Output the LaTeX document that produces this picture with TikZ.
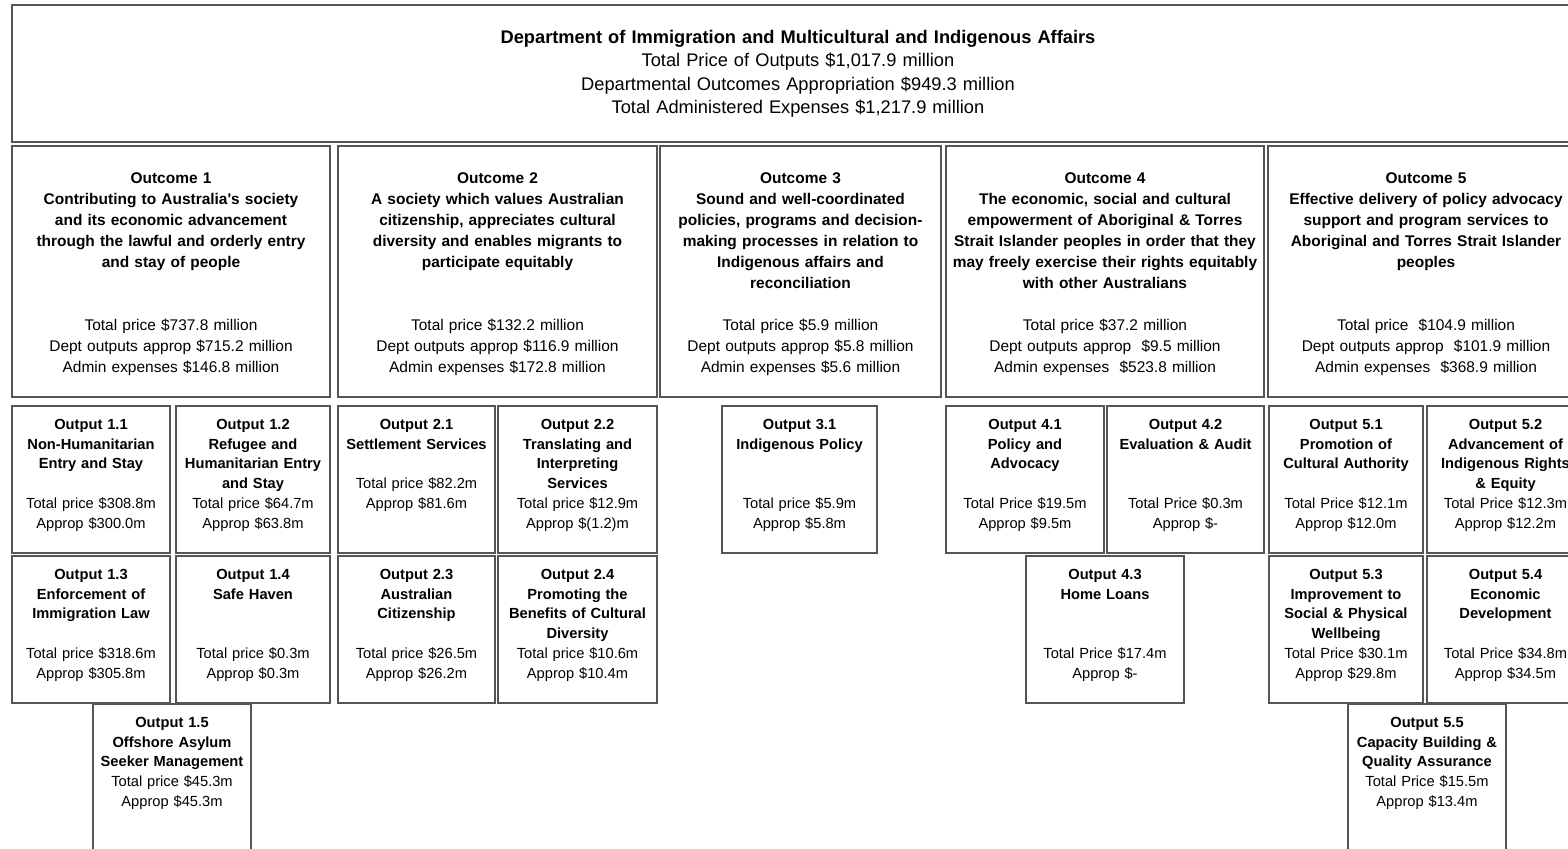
\documentclass[tikz,border=0pt]{standalone}
\usepackage{fontspec}
\setmainfont{Liberation Sans}
\usetikzlibrary{positioning,fit}
\definecolor{boxgray}{HTML}{555555}

\tikzset{
  box/.style={draw=boxgray, line width=1.1pt, inner sep=0pt},
  headtxt/.style={align=center, inner sep=0pt, font={\fontsize{13.7}{17.6}\selectfont}},
  outcometxt/.style={align=center, inner sep=0pt, font={\fontsize{11.6}{15.75}\selectfont}},
  outputtxt/.style={align=center, inner sep=0pt, font={\fontsize{11}{14.85}\selectfont}},
}

\begin{document}
\begin{tikzpicture}[x=0.75pt, y=-0.75pt]
\useasboundingbox (0,0) rectangle (1568,849);
\clip (0,0) rectangle (1568,849);
\fill[white] (0,0) rectangle (1568,849);

% department
\node[box, fit={(12,5) (1584,142)}] (dept) {};
\node[headtxt, text width=1100pt, below=19.3pt of dept.north] (dept-t) {%
  \textbf{Department of Immigration and Multicultural and Indigenous Affairs}\\
  Total Price of Outputs \$1,017.9 million\\
  Departmental Outcomes Appropriation \$949.3 million\\
  Total Administered Expenses \$1,217.9 million};

% outcomes
\foreach \nm/\xa/\xb/\txt in {%
    oc1/12/330/{{\bfseries Outcome 1\\ Contributing to Australia\textquotesingle s society\\ and its economic advancement\\ through the lawful and orderly entry\\ and stay of people}\\~\\~\\ Total price \$737.8 million\\ Dept outputs approp \$715.2 million\\ Admin expenses \$146.8 million},%
    oc2/338/657/{{\bfseries Outcome 2\\ A society which values Australian\\ citizenship, appreciates cultural\\ diversity and enables migrants to\\ participate equitably}\\~\\~\\ Total price \$132.2 million\\ Dept outputs approp \$116.9 million\\ Admin expenses \$172.8 million},%
    oc3/660/941/{{\bfseries Outcome 3\\ Sound and well-coordinated\\ policies, programs and decision-\\ making processes in relation to\\ Indigenous affairs and\\ reconciliation}\\~\\ Total price \$5.9 million\\ Dept outputs approp \$5.8 million\\ Admin expenses \$5.6 million},%
    oc4/946/1264/{{\bfseries Outcome 4\\ The economic, social and cultural\\ empowerment of Aboriginal \& Torres\\ Strait Islander peoples in order that they\\ may freely exercise their rights equitably\\ with other Australians}\\~\\ Total price \$37.2 million\\ Dept outputs approp~ \$9.5 million\\ Admin expenses~ \$523.8 million},%
    oc5/1268/1584/{{\bfseries Outcome 5\\ Effective delivery of policy advocacy\\ support and program services to\\ Aboriginal and Torres Strait Islander\\ peoples}\\~\\~\\ Total price~ \$104.9 million\\ Dept outputs approp~ \$101.9 million\\ Admin expenses~ \$368.9 million}%
}{
    \node[box, fit={(\xa,146) (\xb,397)}] (\nm) {};
    \pgfmathsetmacro\tw{(\xb-\xa+40)*0.75}
    \node[outcometxt, text width=\tw pt, below=20.4pt of \nm.north] (\nm-t) {\txt};
}

% outputs
\foreach \nm/\xa/\ya/\xb/\yb/\txt in {%
    op11/12/406/170/553/{{\bfseries Output 1.1\\ Non-Humanitarian\\ Entry and Stay}\\~\\ Total price \$308.8m\\ Approp \$300.0m},%
    op12/176/406/330/553/{{\bfseries Output 1.2\\ Refugee and\\ Humanitarian Entry\\ and Stay}\\ Total price \$64.7m\\ Approp \$63.8m},%
    op13/12/556/170/703/{{\bfseries Output 1.3\\ Enforcement of\\ Immigration Law}\\~\\ Total price \$318.6m\\ Approp \$305.8m},%
    op14/176/556/330/703/{{\bfseries Output 1.4\\ Safe Haven}\\~\\~\\ Total price \$0.3m\\ Approp \$0.3m},%
    op15/93/704/251/851/{{\bfseries Output 1.5\\ Offshore Asylum\\ Seeker Management}\\ Total price \$45.3m\\ Approp \$45.3m},%
    op21/338/406/495/553/{{\bfseries Output 2.1\\ Settlement Services}\\~\\ Total price \$82.2m\\ Approp \$81.6m},%
    op22/498/406/657/553/{{\bfseries Output 2.2\\ Translating and\\ Interpreting\\ Services}\\ Total price \$12.9m\\ Approp \$(1.2)m},%
    op23/338/556/495/703/{{\bfseries Output 2.3\\ Australian\\ Citizenship}\\~\\ Total price \$26.5m\\ Approp \$26.2m},%
    op24/498/556/657/703/{{\bfseries Output 2.4\\ Promoting the\\ Benefits of Cultural\\ Diversity}\\ Total price \$10.6m\\ Approp \$10.4m},%
    op31/722/406/877/553/{{\bfseries Output 3.1\\ Indigenous Policy}\\~\\~\\ Total price \$5.9m\\ Approp \$5.8m},%
    op41/946/406/1104/553/{{\bfseries Output 4.1\\ Policy and\\ Advocacy}\\~\\ Total Price \$19.5m\\ Approp \$9.5m},%
    op42/1107/406/1264/553/{{\bfseries Output 4.2\\ Evaluation \& Audit}\\~\\~\\ Total Price \$0.3m\\ Approp \$-},%
    op43/1026/556/1184/703/{{\bfseries Output 4.3\\ Home Loans}\\~\\~\\ Total Price \$17.4m\\ Approp \$-},%
    op51/1269/406/1423/553/{{\bfseries Output 5.1\\ Promotion of\\ Cultural Authority}\\~\\ Total Price \$12.1m\\ Approp \$12.0m},%
    op52/1427/406/1584/553/{{\bfseries Output 5.2\\ Advancement of\\ Indigenous Rights\\ \& Equity}\\ Total Price \$12.3m\\ Approp \$12.2m},%
    op53/1269/556/1423/703/{{\bfseries Output 5.3\\ Improvement to\\ Social \& Physical\\ Wellbeing}\\ Total Price \$30.1m\\ Approp \$29.8m},%
    op54/1427/556/1584/703/{{\bfseries Output 5.4\\ Economic\\ Development}\\~\\ Total Price \$34.8m\\ Approp \$34.5m},%
    op55/1348/704/1506/851/{{\bfseries Output 5.5\\ Capacity Building \&\\ Quality Assurance}\\ Total Price \$15.5m\\ Approp \$13.4m}%
}{
    \node[box, fit={(\xa,\ya) (\xb,\yb)}] (\nm) {};
    \pgfmathsetmacro\tw{(\xb-\xa+30)*0.75}
    \node[outputtxt, text width=\tw pt, below=10.2pt of \nm.north] (\nm-t) {\txt};
}
\end{tikzpicture}
\end{document}
